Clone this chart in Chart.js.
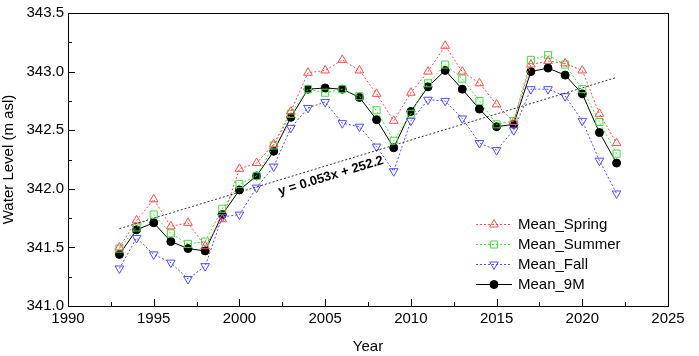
<!DOCTYPE html>
<html>
<head>
<meta charset="utf-8">
<script src="https://cdn.jsdelivr.net/npm/chart.js@4"></script>
<style>
  html, body { margin: 0; padding: 0; background: #fff; }
  #wrap { width: 699px; height: 356px; }
</style>
</head>
<body>
<div id="wrap"><canvas id="levelChart" width="699" height="356"></canvas></div>
<script>
const years = [1993, 1994, 1995, 1996, 1997, 1998, 1999, 2000, 2001, 2002, 2003, 2004, 2005, 2006, 2007,
  2008, 2009, 2010, 2011, 2012, 2013, 2014, 2015, 2016, 2017, 2018, 2019, 2020, 2021, 2022];

const meanSpring = [341.50, 341.73, 341.91, 341.68, 341.71, 341.51, 341.74, 342.17, 342.22, 342.38, 342.66, 342.99, 343.01, 343.10, 343.01,
  342.81, 342.58, 342.82, 343.00, 343.22, 343.00, 342.90, 342.72, 342.57, 343.06, 343.09, 343.07, 343.01, 342.64, 342.39];
const meanSummer = [341.49, 341.67, 341.78, 341.62, 341.53, 341.55, 341.83, 342.04, 342.11, 342.37, 342.64, 342.85, 342.82, 342.85, 342.79,
  342.67, 342.41, 342.64, 342.90, 343.06, 342.94, 342.75, 342.55, 342.58, 343.10, 343.14, 343.06, 342.85, 342.57, 342.30];
const meanFall = [341.32, 341.58, 341.44, 341.37, 341.23, 341.34, 341.76, 341.78, 342.01, 342.19, 342.52, 342.69, 342.74, 342.56, 342.53,
  342.36, 342.15, 342.58, 342.76, 342.75, 342.60, 342.39, 342.33, 342.50, 342.85, 342.85, 342.79, 342.58, 342.24, 341.96];
const mean9M = [341.44, 341.65, 341.71, 341.55, 341.49, 341.47, 341.78, 341.99, 342.11, 342.32, 342.61, 342.85, 342.86, 342.85, 342.78,
  342.59, 342.35, 342.66, 342.87, 343.01, 342.85, 342.68, 342.53, 342.55, 343.00, 343.03, 342.97, 342.81, 342.48, 342.22];

// fitted trend line end points (as drawn in the figure)
const trendYears = [1993, 2022];
const trendValues = [341.66, 342.95];
const trendLabel = 'y = 0.053x + 252.2';

const xTicks = [1990, 1995, 2000, 2005, 2010, 2015, 2020, 2025];
const yTicks = [341.0, 341.5, 342.0, 342.5, 343.0, 343.5];

const FONT = 'Liberation Sans, Arial, sans-serif';

function pts(values) {
  return years.map((y, i) => ({ x: y, y: values[i] }));
}

// ticks inside the box + frame
const framePlugin = {
  id: 'frame',
  afterDatasetsDraw(chart) {
    const { ctx, chartArea: a, scales } = chart;
    ctx.save();
    ctx.strokeStyle = '#000';
    ctx.lineWidth = 1;
    ctx.strokeRect(a.left + 0.5, a.top + 0.5, a.right - a.left, a.bottom - a.top);
    ctx.beginPath();
    for (let v = 1990; v <= 2025; v += 2.5) {
      const px = Math.round(scales.x.getPixelForValue(v)) + 0.5;
      const len = (v % 5 === 0) ? 7 : 4;
      ctx.moveTo(px, a.bottom);
      ctx.lineTo(px, a.bottom - len);
    }
    for (let v = 341; v <= 343.5001; v += 0.25) {
      const py = Math.round(scales.y.getPixelForValue(v)) + 0.5;
      const len = (Math.abs(v * 2 - Math.round(v * 2)) < 0.01) ? 7 : 4;
      ctx.moveTo(a.left, py);
      ctx.lineTo(a.left + len, py);
    }
    ctx.stroke();
    ctx.restore();
  }
};

// trend equation + legend
const annotPlugin = {
  id: 'annot',
  afterDraw(chart) {
    const { ctx, scales } = chart;
    ctx.save();

    // equation text along the trend line
    const x0 = scales.x.getPixelForValue(trendYears[0]);
    const y0 = scales.y.getPixelForValue(trendValues[0]);
    const x1 = scales.x.getPixelForValue(trendYears[1]);
    const y1 = scales.y.getPixelForValue(trendValues[1]);
    const ang = Math.atan2(y1 - y0, x1 - x0);
    ctx.translate(331, 176);
    ctx.rotate(ang);
    ctx.font = 'bold 13px ' + FONT;
    ctx.fillStyle = '#000';
    ctx.textAlign = 'center';
    ctx.textBaseline = 'middle';
    ctx.fillText(trendLabel, 0, 0);
    ctx.setTransform(1, 0, 0, 1, 0, 0);

    // legend
    const items = chart.data.datasets.filter(d => d.label);
    let ly = 224;
    items.forEach(ds => {
      ctx.strokeStyle = ds.borderColor;
      ctx.lineWidth = 1;
      ctx.setLineDash(ds.borderDash || []);
      ctx.beginPath();
      ctx.moveTo(476, ly + 0.5);
      ctx.lineTo(512, ly + 0.5);
      ctx.stroke();
      ctx.setLineDash([]);
      ctx.fillStyle = ds.pointBackgroundColor;
      ctx.strokeStyle = ds.pointBorderColor;
      Chart.helpers.drawPoint(ctx, {
        pointStyle: ds.pointStyle,
        rotation: ds.pointRotation || 0,
        radius: ds.pointRadius,
        borderWidth: 1
      }, 494, ly + 0.5);
      ctx.fillStyle = '#000';
      ctx.font = '15px ' + FONT;
      ctx.textAlign = 'left';
      ctx.textBaseline = 'middle';
      ctx.fillText(ds.label, 518, ly + 1);
      ly += 20;
    });
    ctx.restore();
  }
};

function seasonSet(label, values, color, style, rot) {
  return {
    label: label,
    data: pts(values),
    borderColor: color,
    borderWidth: 1,
    borderDash: [2, 2],
    pointStyle: style,
    pointRotation: rot,
    pointRadius: 5,
    pointBorderColor: color,
    pointBackgroundColor: 'rgba(0,0,0,0)',
    pointBorderWidth: 1,
    tension: 0
  };
}

const ctx = document.getElementById('levelChart').getContext('2d');
new Chart(ctx, {
  type: 'line',
  data: {
    datasets: [
      {
        data: trendYears.map((y, i) => ({ x: y, y: trendValues[i] })),
        borderColor: '#333',
        borderWidth: 1,
        borderDash: [2, 2],
        pointRadius: 0
      },
      seasonSet('Mean_Spring', meanSpring, '#ff4d4d', 'triangle', 0),
      seasonSet('Mean_Summer', meanSummer, '#44dd44', 'rect', 0),
      seasonSet('Mean_Fall', meanFall, '#4d4dff', 'triangle', 180),
      {
        label: 'Mean_9M',
        data: pts(mean9M),
        borderColor: '#000',
        borderWidth: 1,
        pointStyle: 'circle',
        pointRadius: 4,
        pointBorderColor: '#000',
        pointBackgroundColor: '#000',
        tension: 0
      }
    ]
  },
  options: {
    responsive: false,
    animation: false,
    layout: { padding: { top: 8, right: 31, left: 0, bottom: 0 } },
    plugins: { legend: { display: false }, tooltip: { enabled: false } },
    scales: {
      x: {
        type: 'linear',
        min: 1990,
        max: 2025,
        afterBuildTicks: s => { s.ticks = xTicks.map(v => ({ value: v })); },
        afterFit: s => { s.height = 50; },
        grid: { display: false, drawTicks: false },
        border: { display: false },
        ticks: { color: '#000', font: { family: FONT, size: 15 }, padding: 4, maxRotation: 0, callback: v => String(v) },
        title: { display: true, text: 'Year', color: '#000', font: { family: FONT, size: 15 }, padding: { top: 4, bottom: 0 } }
      },
      y: {
        min: 341,
        max: 343.5,
        afterBuildTicks: s => { s.ticks = yTicks.map(v => ({ value: v })); },
        afterFit: s => { s.width = 68; },
        grid: { display: false, drawTicks: false },
        border: { display: false },
        ticks: { color: '#000', font: { family: FONT, size: 15 }, padding: 4, callback: v => Number(v).toFixed(1) },
        title: { display: true, text: 'Water Level (m asl)', color: '#000', font: { family: FONT, size: 15 }, padding: { top: 0, bottom: 2 } }
      }
    }
  },
  plugins: [framePlugin, annotPlugin]
});
</script>
</body>
</html>
